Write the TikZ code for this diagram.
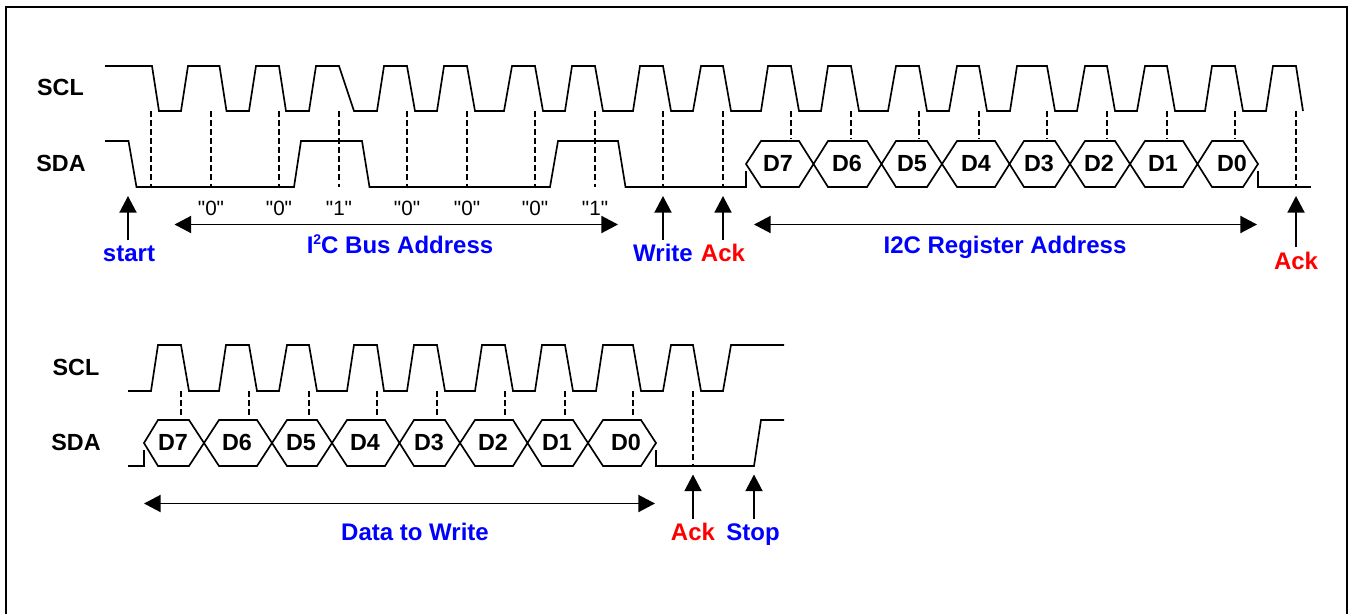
\documentclass[tikz,border=0pt]{standalone}
\usepackage{fontspec}
\setmainfont{Liberation Sans}
\newfontfamily\plainquote[Ligatures=ResetAll]{Liberation Sans}
\usetikzlibrary{arrows.meta}
\definecolor{labblue}{RGB}{0,0,255}
\definecolor{labred}{RGB}{255,0,0}
\tikzset{
  x=0.75pt,y=-0.75pt,
  wave/.style={line width=1.25pt,line join=miter},
  tick/.style={line width=1.15pt,dash pattern=on 4.2pt off 2.6pt},
  bigarrow/.style={line width=1.3pt,-{Triangle[length=12.5pt,width=12.8pt]}},
  twoarrow/.style={line width=1.3pt,{Triangle[length=12.5pt,width=12.8pt]}-{Triangle[length=12.5pt,width=12.8pt]}},
  sig/.style={font=\bfseries\fontsize{17.5}{19}\selectfont,inner sep=0pt,anchor=base},
  bitlab/.style={font=\bfseries\fontsize{17.5}{19}\selectfont,inner sep=0pt,anchor=base},
  valtxt/.style={font=\plainquote\fontsize{15.5}{17}\selectfont,inner sep=0pt,anchor=base},
  bluetxt/.style={font=\bfseries\fontsize{18}{20}\selectfont,text=labblue,inner sep=0pt,anchor=base},
  redtxt/.style={font=\bfseries\fontsize{18}{20}\selectfont,text=labred,inner sep=0pt,anchor=base},
}
\begin{document}
\begin{tikzpicture}
\useasboundingbox (0,0) rectangle (1348,614);
\draw[line width=1.5pt,line join=miter] (6,614)--(6,7)--(1346.8,7)--(1346.8,614);

% ---------- first row: SCL
\draw[wave] (105,66)--(152,66)--(159,111)--(181,111)--(188,66)--(219.5,66)--(226.5,111)--(249,111)--(256,66)--(279,66)--(286,111)--(309,111)--(316,66)--(339,66)--(354,111)--(377,111)--(384,66)--(407,66)--(415,111)--(437,111)--(444,66)--(467,66)--(475,111)--(504,111)--(512,66)--(535,66)--(543,111)--(565,111)--(572,66)--(595,66)--(603,111)--(633,111)--(640,66)--(663,66)--(671,111)--(693,111)--(701,66)--(723,66)--(731,111)--(761,111)--(768,66)--(791,66)--(799,111)--(821,111)--(828,66)--(851,66)--(859,111)--(888,111)--(896,66)--(919,66)--(927,111)--(949,111)--(957,66)--(979,66)--(987,111)--(1010,111)--(1017,66)--(1047,66)--(1055,111)--(1077,111)--(1085,66)--(1107,66)--(1115,111)--(1137,111)--(1145,66)--(1167,66)--(1175,111)--(1205,111)--(1212,66)--(1235,66)--(1243,111)--(1266,111)--(1273,66)--(1296,66)--(1303,111);

% first row: SDA
\draw[wave] (105,141)--(128.5,141)--(136.5,187)--(294,187)--(301,141)--(362,141)--(369.5,187)--(550,187)--(558,141)--(618,141)--(625.5,187)--(746,187)--(746,171);
\draw[wave] (746,164)--(761,141)--(799,141)--(828,187)--(867,187)--(896,141)--(927,141)--(957,187)--(995,187)--(1024,141)--(1055,141)--(1085,187)--(1115,187)--(1145,141)--(1183,141)--(1212,187)--(1243,187)--(1258,164)--(1243,141)--(1212,141)--(1183,187)--(1145,187)--(1115,141)--(1085,141)--(1055,187)--(1024,187)--(995,141)--(957,141)--(927,187)--(896,187)--(867,141)--(828,141)--(799,187)--(761,187)--cycle;
\draw[wave] (1258,171)--(1258,187)--(1311,187);

% first row: dashed ticks
\foreach \x in {151,211,279,339,407,467,535,595,663,723,1296}
  \draw[tick] (\x,111)--(\x,187);
\foreach \x in {791,851,919,979,1047,1107,1167,1235}
  \draw[tick] (\x,111)--(\x,139);

% first row: texts
\node[sig] (sclA) at (60.5,95) {SCL};
\node[sig] (sdaA) at (61,171.5) {SDA};
\foreach \x/\t/\n in {778/D7/a7,847/D6/a6,912/D5/a5,976/D4/a4,1039/D3/a3,1099/D2/a2,1163/D1/a1,1232/D0/a0}
  \node[bitlab] (\n) at (\x,171.5) {\t};
\foreach \x/\t/\n in {211/0/b1,279/0/b2,339/1/b3,407/0/b4,467/0/b5,535/0/b6,595/1/b7}
  \node[valtxt] (\n) at (\x,215) {"\t"};

\node[bluetxt] (busaddr) at (400,253) {I\raisebox{0.36em}{\fontsize{10.5}{11}\selectfont 2}C Bus Address};
\node[bluetxt] (regaddr) at (1005,253) {I2C Register Address};
\node[bluetxt] (start) at (129,261.5) {start};
\node[bluetxt] (write) at (663,261.5) {Write};
\node[redtxt] (ackA) at (723,261.5) {Ack};
\node[redtxt] (ackB) at (1296,269) {Ack};

\coordinate (startTip) at (128,196);
\coordinate (startTail) at (128,240);
\coordinate (writeTip) at (663,196);
\coordinate (writeTail) at (663,240);
\coordinate (ackATip) at (723,196);
\coordinate (ackATail) at (723,240);
\coordinate (ackBTip) at (1296,196);
\coordinate (ackBTail) at (1296,247);
\coordinate (busL) at (174.5,224.5);
\coordinate (busR) at (618,224.5);
\coordinate (regL) at (754,224.5);
\coordinate (regR) at (1257,224.5);
\draw[bigarrow] (startTail)--(startTip);
\draw[bigarrow] (writeTail)--(writeTip);
\draw[bigarrow] (ackATail)--(ackATip);
\draw[bigarrow] (ackBTail)--(ackBTip);
\draw[twoarrow] (busL)--(busR);
\draw[twoarrow] (regL)--(regR);

% ---------- second row: SCL
\draw[wave] (128,391)--(151,391)--(158,345)--(181,345)--(189,391)--(219,391)--(226,345)--(249,345)--(257,391)--(279,391)--(287,345)--(309,345)--(317,391)--(347,391)--(354,345)--(377,345)--(384,391)--(407,391)--(414,345)--(437,345)--(445,391)--(475,391)--(482,345)--(505,345)--(513,391)--(535,391)--(542,345)--(565,345)--(573,391)--(596,391)--(603,345)--(633,345)--(641,391)--(663,391)--(671,345)--(693,345)--(701,391)--(723,391)--(731,345)--(784,345);

% second row: SDA
\draw[wave] (128,466)--(144,466)--(144,450);
\draw[wave] (144,443)--(158,420)--(189,420)--(219,466)--(257,466)--(287,420)--(317,420)--(347,466)--(385,466)--(414,420)--(445,420)--(475,466)--(513,466)--(542,420)--(573,420)--(603,466)--(641,466)--(656,443)--(641,420)--(603,420)--(573,466)--(542,466)--(513,420)--(475,420)--(445,466)--(414,466)--(385,420)--(347,420)--(317,466)--(287,466)--(257,420)--(219,420)--(189,466)--(158,466)--cycle;
\draw[wave] (656,450)--(656,466)--(754,466)--(761,420)--(784,420);

% second row: ticks
\foreach \x in {181,249,309,377,437,505,565,633}
  \draw[tick] (\x,391)--(\x,418);
\draw[tick] (693,391)--(693,466);

% second row: texts
\node[sig] (sclB) at (76,375) {SCL};
\node[sig] (sdaB) at (76,450.5) {SDA};
\foreach \x/\t/\n in {173/D7/c7,237/D6/c6,301/D5/c5,365/D4/c4,429/D3/c3,493/D2/c2,557/D1/c1,626/D0/c0}
  \node[bitlab] (\n) at (\x,450.5) {\t};
\node[bluetxt] (datawrite) at (415,540.5) {Data to Write};
\node[redtxt] (ackC) at (693,540.5) {Ack};
\node[bluetxt] (stop) at (753,540.5) {Stop};

\coordinate (ackCTip) at (693,474.5);
\coordinate (ackCTail) at (693,519);
\coordinate (stopTip) at (754,474.5);
\coordinate (stopTail) at (754,519);
\coordinate (dataL) at (144,503.5);
\coordinate (dataR) at (655,503.5);
\draw[bigarrow] (ackCTail)--(ackCTip);
\draw[bigarrow] (stopTail)--(stopTip);
\draw[twoarrow] (dataL)--(dataR);
\end{tikzpicture}
\end{document}
